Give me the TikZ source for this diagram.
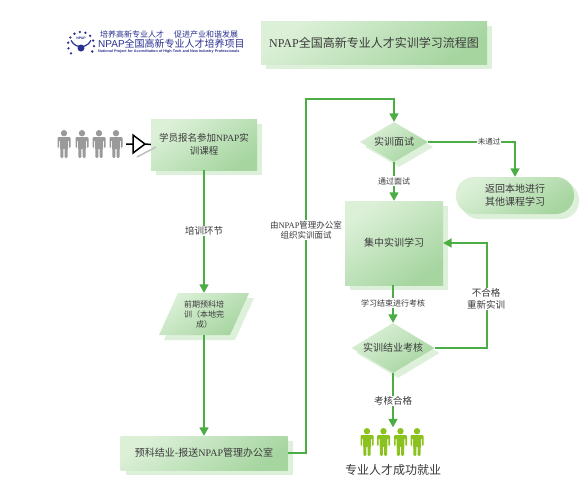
\documentclass[tikz,border=0pt]{standalone}
\usepackage{fontspec}
\setmainfont{Noto Sans CJK SC}
\newfontfamily\latinf{Liberation Serif}
\newfontfamily\latins{Liberation Sans}
\usetikzlibrary{shapes.geometric,shadows,arrows.meta,calc}
\definecolor{boxA}{HTML}{DCF0D8}
\definecolor{boxB}{HTML}{A6D5A0}
\definecolor{boxS}{HTML}{DDF0DA}
\definecolor{lineG}{HTML}{4BAE45}
\definecolor{txt}{HTML}{3A3A3A}
\definecolor{navy}{HTML}{2B3190}
\definecolor{perG}{HTML}{9A9A9A}
\definecolor{perL}{HTML}{8CC21F}
\newcommand{\np}{{\latinf NPAP}}
\newcommand{\fs}[1]{\fontsize{#1}{#1}\selectfont}
\tikzset{
  x=1pt,y=-1pt,
  flowfill/.style={top color=boxA,bottom color=boxB,shading angle=35,
    general shadow={shadow xshift=5pt,shadow yshift=-5pt,fill=boxS,draw=none}},
  flowbox/.style={flowfill,rectangle,inner sep=0pt,align=center,text=txt},
  flowdia/.style={flowfill,diamond,inner sep=0pt,text=txt},
  flowlabel/.style={fill=white,inner sep=1pt,align=center,text=txt},
  flowline/.style={draw=lineG,line width=1.7pt},
  flowarrow/.style={flowline,-{Triangle[width=9pt,length=8.5pt]}},
  person/.pic={
    \fill[pic actions] (0,3.2) circle[radius=3.2pt];
    \fill[pic actions,rounded corners=1.2pt] (-6.5,7) -- (6.5,7) -- (6.5,18) -- (4.9,18) -- (4.9,10) -- (3.9,10) -- (3.6,28) -- (0.6,28) -- (0.6,18) -- (-0.6,18) -- (-0.6,28) -- (-3.6,28) -- (-3.9,10) -- (-4.9,10) -- (-4.9,18) -- (-6.5,18) -- cycle;
  }
}
\begin{document}
\begin{tikzpicture}
\useasboundingbox (0,0) rectangle (584,485);
\fill[white] (0,0) rectangle (584,485);

% logo
\coordinate (logoC) at (81,45);
\foreach \a in {-30,-5,20,45,70,95,120,145,170,195,220}
  \fill[navy] ($(logoC)+(\a:13pt)$) circle[radius=1.3pt];
\draw[navy,line width=1.2pt] ($(logoC)+(25:11pt)$) arc[start angle=-25,end angle=-155,radius=11pt];
\fill[navy] (logoC)++(0,3) circle[radius=3.5pt];
\node[text=navy,font=\latins\bfseries\fs{3.5},inner sep=0pt] (logoN) at (81,38.5) {NPAP};
\node[anchor=west,text=navy,inner sep=0pt,font=\fs{8}] (logoA) at (100,34) {培养高新专业人才\hspace{10pt}促进产业和谐发展};
\node[anchor=west,text=navy,inner sep=0pt,font=\fs{10}] (logoB) at (98,44) {{\latins NPAP}全国高新专业人才培养项目};
\node[anchor=west,text=navy,inner sep=0pt,font=\latins\bfseries\fs{3.75}] (logoD) at (98,52) {National Project for Accreditation of High-Tech and New Industry Professionals};

% title
\node[flowbox,minimum width=226pt,minimum height=43pt,font=\fs{12}] (title) at (374,42.5) {\np 全国高新专业人才实训学习流程图};

% left column
\node[flowbox,minimum width=106pt,minimum height=51pt,font=\fs{9.5},text width=100pt] (student) at (204,144.5) {学员报名参加\np 实\\[3pt]训课程};
\shade[top color=boxS,bottom color=boxS] (183,298) -- (254,298) -- (235,340) -- (164,340) -- cycle;
\shade[top color=boxA,bottom color=boxB,shading angle=35] (178,293) -- (249,293) -- (230,335) -- (159,335) -- cycle;
\node[inner sep=0pt,minimum height=42pt,align=center,text=txt,font=\fs{8}] (pre) at (204,314) {前期预科培\\[2pt]训（本地完\\[2pt]成）};
\node[flowbox,minimum width=167pt,minimum height=34pt,font=\fs{10}] (office) at (204,453) {预科结业-报送\np 管理办公室};

% right column
\node[flowdia,aspect=1.7,minimum width=68pt,minimum height=40pt,font=\fs{10}] (iv) at (394,142) {实训面试};
\node[flowbox,rounded corners=18pt,minimum width=118pt,minimum height=37pt,font=\fs{10},general shadow={shadow xshift=4pt,shadow yshift=-4pt,fill=boxS,draw=none}] (back) at (515,195.5) {返回本地进行\\[3pt]其他课程学习};
\node[flowbox,minimum width=98pt,minimum height=84pt,font=\fs{10}] (study) at (394,243) {集中实训学习};
\node[flowdia,aspect=1.66,minimum width=83pt,minimum height=50pt,font=\fs{10}] (exam) at (393,348) {实训结业考核};
\node[inner sep=0pt,minimum width=56pt,minimum height=1pt] (green) at (393,428) {};
\node[inner sep=0pt,text=txt,font=\fs{12}] (job) at (393,470) {专业人才成功就业};

% people
\foreach \x in {64,82,99,116} \path[fill=perG] (\x,130) pic {person};
\foreach \x in {367,383.5,400.5,417} \path[fill=perL] (\x,428) pic {person};

% black triangle connector
\coordinate (peopleE) at (126,144);
\coordinate (triW) at (133,144);
\coordinate (triE) at (145,144);
\coordinate (triT) at (133,135);
\coordinate (triB) at (133,153);
\draw[black!25,line width=1.5pt] (137,157) -- (156,147);
\draw[black,line width=1.5pt,line join=miter] (peopleE) -- (triW) (triT) -- (triE) -- (triB) -- cycle (triE) -- (student.west);

% connectors
\draw[flowarrow] (student.south) -- (pre.north);
\draw[flowarrow] (pre.south) -- (office.north);
\coordinate (busA) at (306,453);
\coordinate (busB) at (306,99);
\coordinate (busC) at (394,99);
\draw[flowarrow] (office.east) -- (busA) -- (busB) -- (busC) -- (iv.north);
\coordinate (failA) at (515,142);
\draw[flowarrow] (iv.east) -- (failA) -- (back.north);
\draw[flowarrow] (iv.south) -- (study.north);
\draw[flowarrow] (exam.north |- study.south) -- (exam.north);
\coordinate (retA) at (487,348);
\coordinate (retB) at (487,243);
\draw[flowarrow] (exam.east) -- (retA) -- (retB) -- (study.east);
\draw[flowarrow] (exam.south) -- (green.north);

% labels
\node[flowlabel,font=\fs{9.5}] (l1) at (204,231) {培训环节};
\node[flowlabel,font=\fs{8.5}] (l2) at (306,230) {由\np 管理办公室\\[2pt]组织实训面试};
\node[flowlabel,font=\fs{7.5}] (l3) at (489,142) {未通过};
\node[flowlabel,font=\fs{8}] (l4) at (394,181) {通过面试};
\node[flowlabel,font=\fs{8}] (l5) at (393,303) {学习结束进行考核};
\node[flowlabel,font=\fs{9.5}] (l6) at (486,299) {不合格\\[2pt]重新实训};
\node[flowlabel,font=\fs{9.5}] (l7) at (393,401) {考核合格};
\end{tikzpicture}
\end{document}
